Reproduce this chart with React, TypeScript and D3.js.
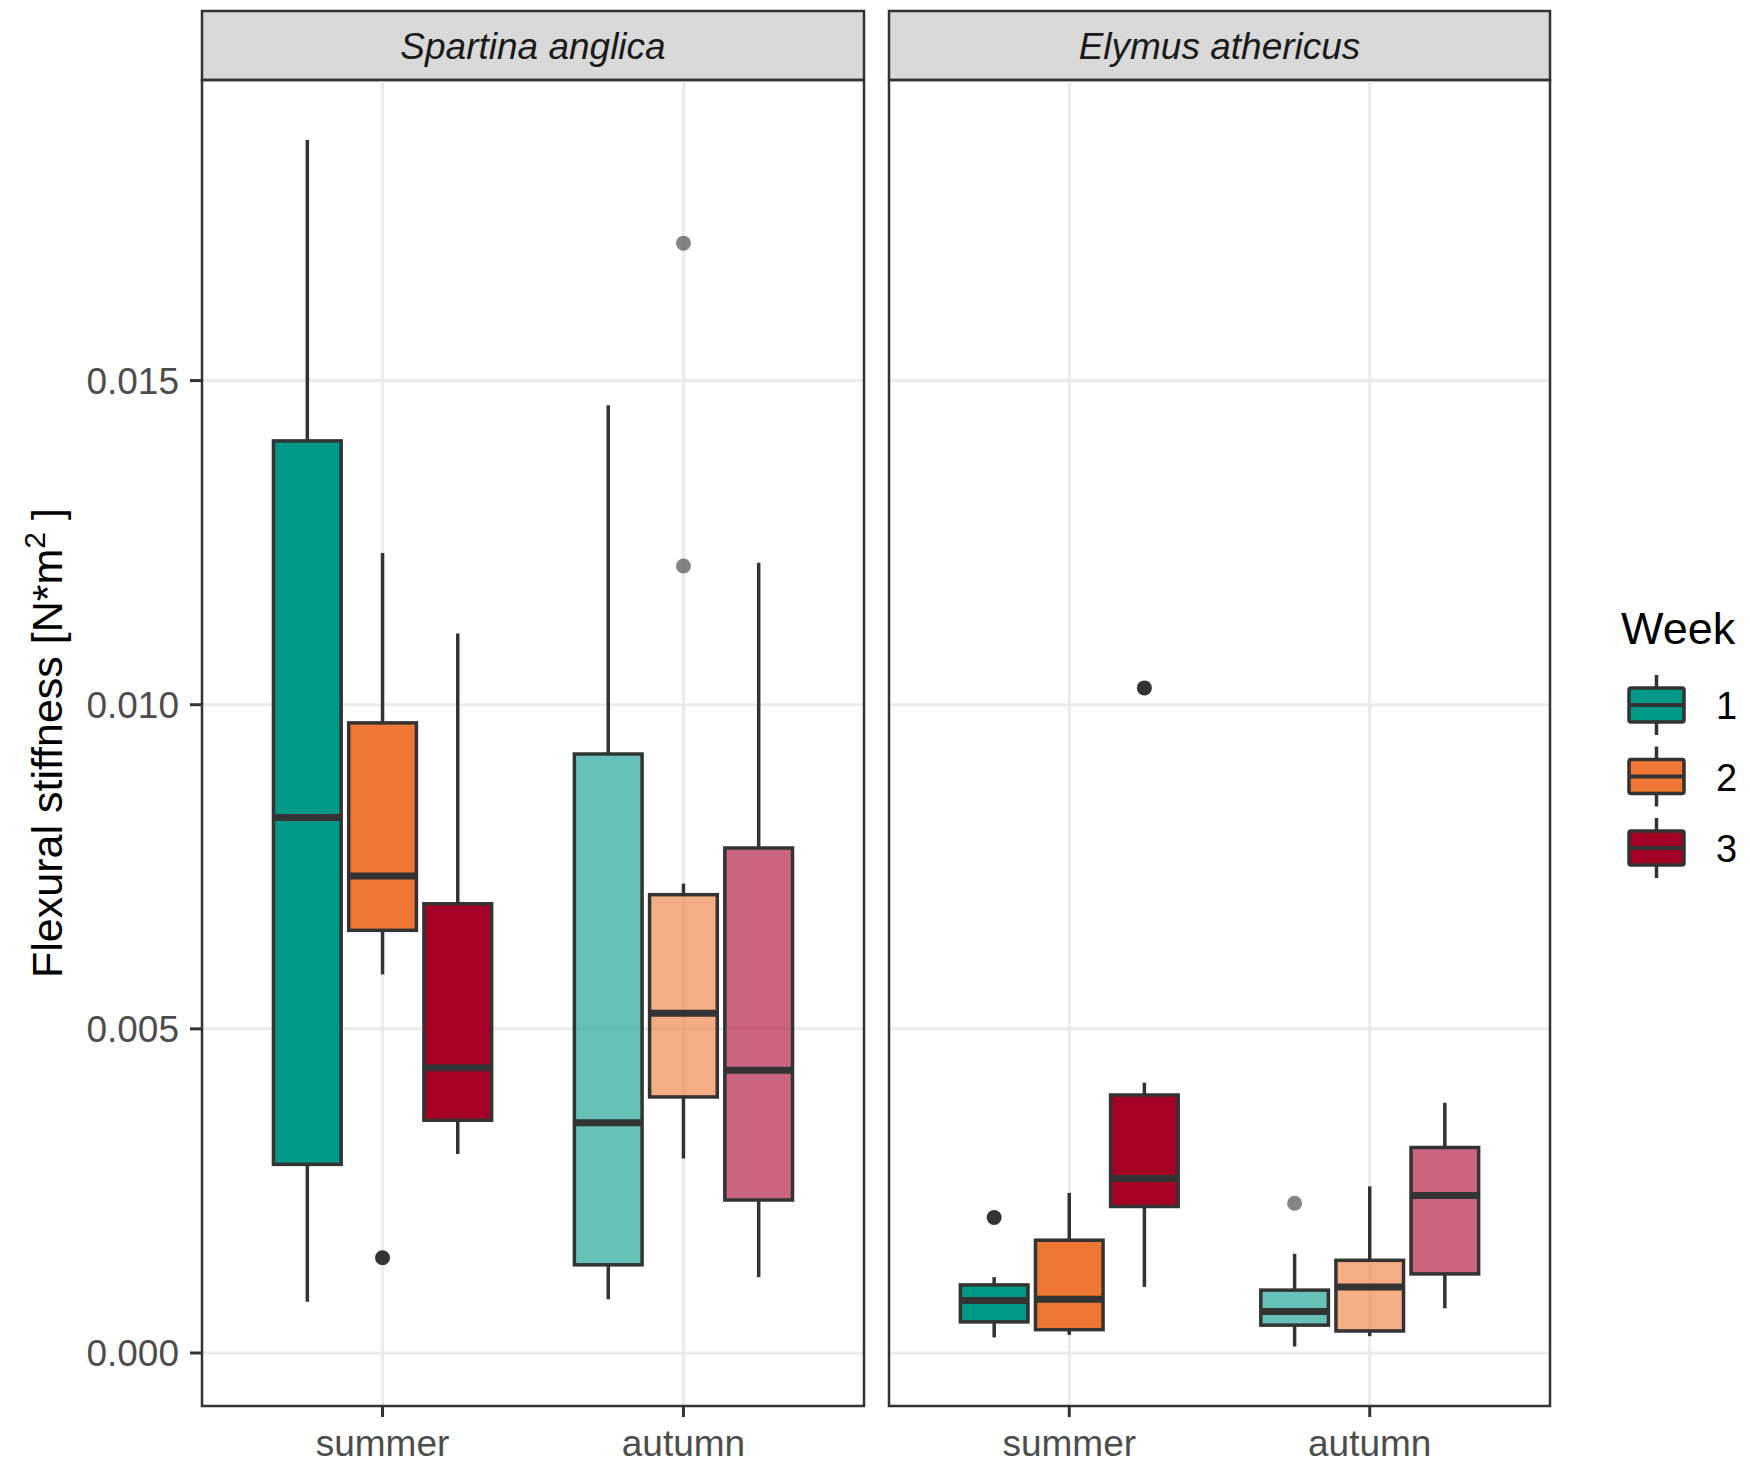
import React from 'react';
import * as d3 from 'd3';

const species = ['Spartina anglica', 'Elymus athericus'];
const seasons = ['summer', 'autumn'];
const weeks = ['1', '2', '3'];
const yTicks = [0, 0.005, 0.01, 0.015];

// [species, season, week, lowWhisker, q1, median, q3, highWhisker, outliers]
type Row = [string, string, string, number, number, number, number, number, number[]];
const boxes: Row[] = [
    ['Spartina anglica', 'summer', '1', 0.00079, 0.00291, 0.00826, 0.01407, 0.01871, []],
    ['Spartina anglica', 'summer', '2', 0.00584, 0.00652, 0.00736, 0.00972, 0.01234, [0.00147]],
    ['Spartina anglica', 'summer', '3', 0.00307, 0.00359, 0.0044, 0.00693, 0.0111, []],
    ['Spartina anglica', 'autumn', '1', 0.00083, 0.00136, 0.00355, 0.00924, 0.01462, []],
    ['Spartina anglica', 'autumn', '2', 0.003, 0.00395, 0.00524, 0.00707, 0.00724, [0.01712, 0.01214]],
    ['Spartina anglica', 'autumn', '3', 0.00117, 0.00236, 0.00436, 0.00779, 0.01219, []],
    ['Elymus athericus', 'summer', '1', 0.00024, 0.00048, 0.00081, 0.00105, 0.00117, [0.00209]],
    ['Elymus athericus', 'summer', '2', 0.00028, 0.00036, 0.00083, 0.00174, 0.00247, []],
    ['Elymus athericus', 'summer', '3', 0.00102, 0.00226, 0.00269, 0.00398, 0.00417, [0.01026]],
    ['Elymus athericus', 'autumn', '1', 0.0001, 0.00043, 0.00064, 0.00097, 0.00153, [0.00231]],
    ['Elymus athericus', 'autumn', '2', 0.00026, 0.00034, 0.00102, 0.00143, 0.00257, []],
    ['Elymus athericus', 'autumn', '3', 0.00069, 0.00122, 0.00243, 0.00317, 0.00386, []],
];

const weekColors = ['#009988', '#EE7733', '#A50026'];

const W = 1750;
const H = 1462;
const panelX = [[202, 864], [889, 1550]];
const stripTop = 11;
const plotTop = 80;
const plotBottom = 1406;
const dark = '#333333';
const font = '"Liberation Sans", Arial, sans-serif';

const App: React.FC = () => {
    const y = d3.scaleLinear().domain([0, 0.015]).range([1353, 380.6]);
    const color = d3.scaleOrdinal<string, string>().domain(weeks).range(weekColors);
    const fmt = d3.format('.3f');

    return (
        <svg width={W} height={H} fontFamily={font}
            style={{ display: 'block', position: 'absolute', left: 0, top: 0, background: '#fff' }}>
            {species.map((sp, pi) => {
                const [x0, x1] = panelX[pi];
                const x = d3.scaleLinear().domain([0.4, 2.6]).range([x0, x1]);
                const rows = boxes.filter(b => b[0] === sp);
                return (
                    <g key={sp}>
                        {/* strip */}
                        <rect x={x0} y={stripTop} width={x1 - x0} height={plotTop - stripTop}
                            fill="#D9D9D9" stroke={dark} strokeWidth={2.5} />
                        <text x={(x0 + x1) / 2} y={(stripTop + plotTop) / 2 + 13} textAnchor="middle"
                            fontSize={37} fontStyle="italic" fill="#1A1A1A">{sp}</text>
                        {/* grid */}
                        {yTicks.map(t => (
                            <line key={t} x1={x0} x2={x1} y1={y(t)} y2={y(t)} stroke="#EBEBEB" strokeWidth={3} />
                        ))}
                        {seasons.map((s, si) => (
                            <line key={s} x1={x(si + 1)} x2={x(si + 1)} y1={plotTop} y2={plotBottom}
                                stroke="#EBEBEB" strokeWidth={3} />
                        ))}
                        {/* boxes */}
                        {rows.map(r => {
                            const si = seasons.indexOf(r[1]);
                            const wi = weeks.indexOf(r[2]);
                            const cx = x(si + 1 + (wi - 1) * 0.25);
                            const bw = x(0.4 + 0.225) - x(0.4);
                            const autumn = r[1] === 'autumn';
                            return (
                                <g key={r[1] + r[2]}>
                                    <line x1={cx} x2={cx} y1={y(r[7])} y2={y(r[6])} stroke={dark} strokeWidth={3.5} />
                                    <line x1={cx} x2={cx} y1={y(r[4])} y2={y(r[3])} stroke={dark} strokeWidth={3.5} />
                                    <rect x={cx - bw / 2} y={y(r[6])} width={bw} height={y(r[4]) - y(r[6])}
                                        fill={color(r[2])} fillOpacity={autumn ? 0.6 : 1}
                                        stroke={dark} strokeWidth={3.5} />
                                    <line x1={cx - bw / 2} x2={cx + bw / 2} y1={y(r[5])} y2={y(r[5])}
                                        stroke={dark} strokeWidth={7} />
                                    {r[8].map((o, oi) => (
                                        <circle key={oi} cx={cx} cy={y(o)} r={7.5}
                                            fill={dark} fillOpacity={autumn ? 0.6 : 1} />
                                    ))}
                                </g>
                            );
                        })}
                        {/* panel border */}
                        <rect x={x0} y={plotTop} width={x1 - x0} height={plotBottom - plotTop}
                            fill="none" stroke={dark} strokeWidth={2.5} />
                        {/* x axis */}
                        {seasons.map((s, si) => (
                            <g key={s}>
                                <line x1={x(si + 1)} x2={x(si + 1)} y1={plotBottom} y2={plotBottom + 11}
                                    stroke={dark} strokeWidth={3} />
                                <text x={x(si + 1)} y={plotBottom + 50} textAnchor="middle"
                                    fontSize={37} fill="#4D4D4D">{s}</text>
                            </g>
                        ))}
                    </g>
                );
            })}
            {/* y axis */}
            {yTicks.map(t => (
                <g key={t}>
                    <line x1={190} x2={202} y1={y(t)} y2={y(t)} stroke={dark} strokeWidth={3} />
                    <text x={179} y={y(t) + 13} textAnchor="end" fontSize={37} fill="#4D4D4D">{fmt(t)}</text>
                </g>
            ))}
            <text transform={`translate(62, ${(plotTop + plotBottom) / 2}) rotate(-90)`} textAnchor="middle"
                fontSize={43} fill="#000">
                Flexural stiffness [N*m<tspan dy={-17} fontSize={30}>2</tspan><tspan dy={17}> ]</tspan>
            </text>
            {/* legend */}
            <text x={1621} y={644} fontSize={45} fill="#000">Week</text>
            {weeks.map((w, i) => {
                const cy = 705 + i * 71.5;
                const kx0 = 1629;
                const kx1 = 1684;
                const kc = (kx0 + kx1) / 2;
                return (
                    <g key={w}>
                        <line x1={kc} x2={kc} y1={cy - 30} y2={cy + 30} stroke={dark} strokeWidth={3.5} />
                        <rect x={kx0} y={cy - 17} width={kx1 - kx0} height={34} rx={2}
                            fill={color(w)} stroke={dark} strokeWidth={3.5} />
                        <line x1={kx0} x2={kx1} y1={cy} y2={cy} stroke={dark} strokeWidth={4} />
                        <text x={1716} y={cy + 14} fontSize={38} fill="#000">{w}</text>
                    </g>
                );
            })}
        </svg>
    );
};

export default App;
